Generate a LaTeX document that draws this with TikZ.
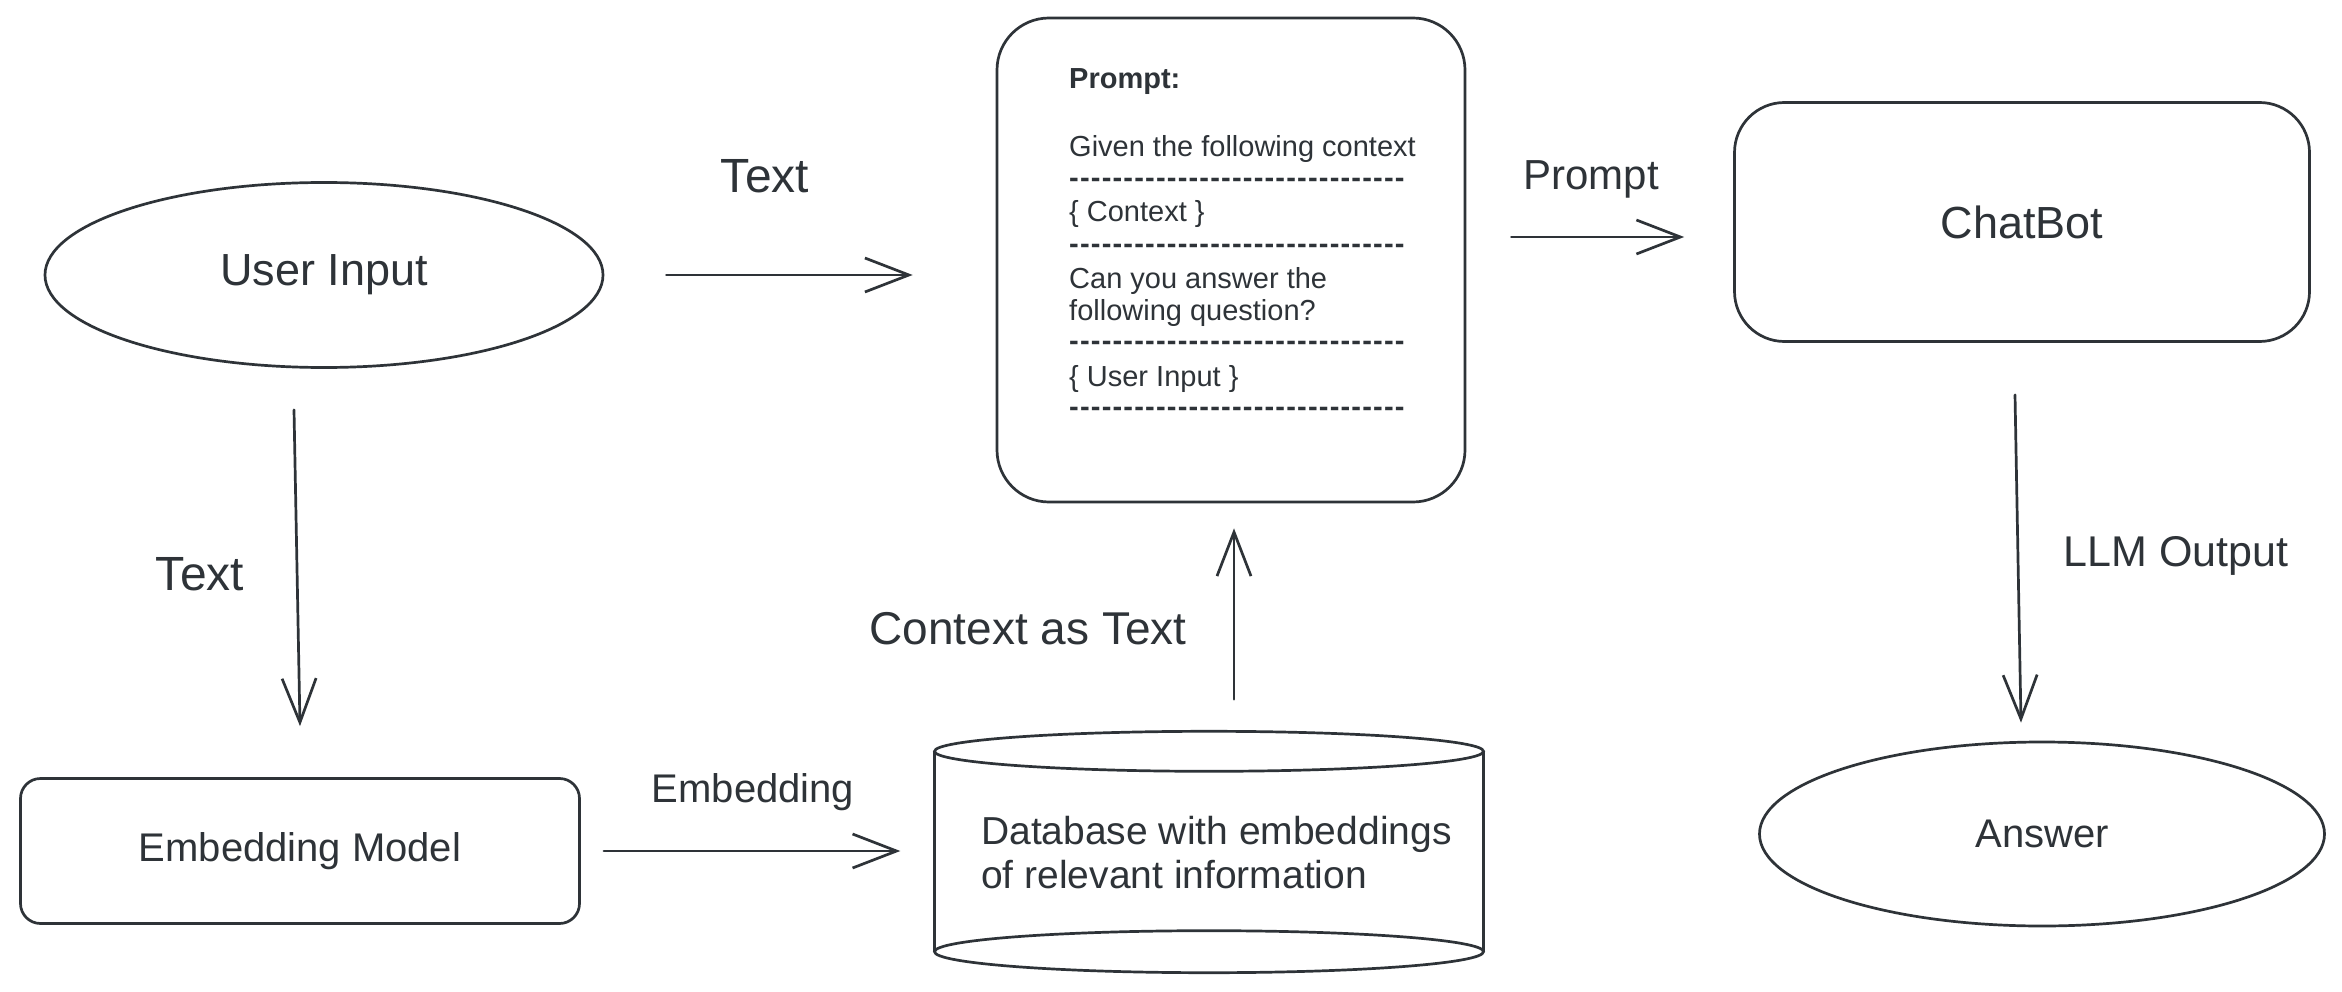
\documentclass[tikz,border=0pt]{standalone}
\usepackage{fontspec}
\setmainfont{Liberation Sans}
\usetikzlibrary{arrows.meta,shapes.geometric,calc}
\definecolor{ink}{HTML}{2E3338}
\newcommand{\fsz}[1]{\fontsize{#1}{#1}\selectfont}
\newcommand{\dd}{\mbox{\bfseries -}\kern1.2pt}
\newcommand{\dashrow}{\dd\dd\dd\dd\dd\dd\dd\dd\dd\dd\dd\dd\dd\dd\dd\dd\dd\dd\dd\dd\dd\dd\dd\dd\dd\dd\dd\dd\dd\dd\dd}
\begin{document}
\begin{tikzpicture}[x=1pt,y=-1pt,
  every node/.style={text=ink},
  shp/.style={draw=ink, line width=2.7pt, inner sep=0pt},
  stroke/.style={draw=ink, line width=2.7pt},
  arr/.style={draw=ink, line width=2.7pt, line cap=round,
     -{Straight Barb[length=44pt,width=34pt,line width=2.7pt]}},
  elbl/.style={inner sep=0pt},
  ptxt/.style={font=\fsz{29}, anchor=mid west, inner sep=0pt}]
\useasboundingbox[fill=white] (0,0) rectangle (2342,992);

% nodes
\node[shp, ellipse, minimum width=558pt, minimum height=185pt, font=\fsz{45}] (ui) at (324,275) {\raisebox{-5pt}{User Input}};
\node[shp, rectangle, rounded corners=52pt, minimum width=468pt, minimum height=484pt] (prompt) at (1231,260) {};
\node[shp, rectangle, rounded corners=50pt, minimum width=575pt, minimum height=239pt, font=\fsz{45}] (chat) at (2022,222) {ChatBot};
\node[shp, rectangle, rounded corners=20pt, minimum width=559pt, minimum height=145pt, font=\fsz{40}] (emb) at (300,851) {Embedding Model};
\node[shp, ellipse, minimum width=565pt, minimum height=184pt, font=\fsz{40}] (ans) at (2042,834) {Answer};

% database cylinder
\node[inner sep=0pt, minimum width=549pt, minimum height=241pt] (db) at (1209,852) {};
\draw[stroke] ($(db.north)+(0,20)$) ellipse [x radius=274.5pt, y radius=20pt];
\draw[stroke] ($(db.south)+(0,-21)$) ellipse [x radius=274.5pt, y radius=21pt];
\draw[stroke] ($(db.north west)+(0,20)$) -- ($(db.south west)+(0,-21)$);
\draw[stroke] ($(db.north east)+(0,20)$) -- ($(db.south east)+(0,-21)$);
\node[font=\fsz{39}, align=left, anchor=west, inner sep=0pt] (dbt) at (981,853) {Database with embeddings\\[5pt]of relevant information};

% prompt content
\node[ptxt, font=\bfseries\fsz{29}] (p1) at (1069,86) {Prompt:};
\node[ptxt] (p2) at (1069,154) {Given the following context};
\node[ptxt] (p3) at (1069,185) {\dashrow};
\node[ptxt] (p4) at (1069,219) {\{ Context \}};
\node[ptxt] (p5) at (1069,251) {\dashrow};
\node[ptxt] (p6) at (1069,286) {Can you answer the};
\node[ptxt] (p7) at (1069,318) {following question?};
\node[ptxt] (p8) at (1069,348) {\dashrow};
\node[ptxt] (p9) at (1069,384) {\{ User Input \}};
\node[ptxt] (p10) at (1069,414) {\dashrow};

% connectors
\draw[arr, shorten <=62pt, shorten >=83pt] (ui.east) -- (ui.east -| prompt.west);
\draw[arr] ($(ui.south)+(-30,41)$) -- ($(emb.north)+(0,-51)$);
\draw[arr, shorten <=23pt, shorten >=34pt] (emb.east) -- (emb.east -| db.west);
\draw[arr] ($(db.north)+(25,-32)$) -- ($(prompt.south)+(3,25)$);
\draw[arr] ($(prompt.east)+(45,-23)$) -- ($(chat.west)+(-49,15)$);
\draw[arr] ($(chat.south)+(-7,52)$) -- ($(ans.north)+(-21,-18)$);

% edge labels
\node[elbl, font=\fsz{48}] (l1) at (765,176) {Text};
\node[elbl, font=\fsz{48}] (l2) at (200,574) {Text};
\node[elbl, font=\fsz{40}] (l3) at (753,792) {Embedding};
\node[elbl, font=\fsz{46}] (l4) at (1028,629) {Context as Text};
\node[elbl, font=\fsz{42}] (l5) at (1591,179) {Prompt};
\node[elbl, font=\fsz{43}] (l6) at (2176,556) {LLM Output};
\end{tikzpicture}
\end{document}
